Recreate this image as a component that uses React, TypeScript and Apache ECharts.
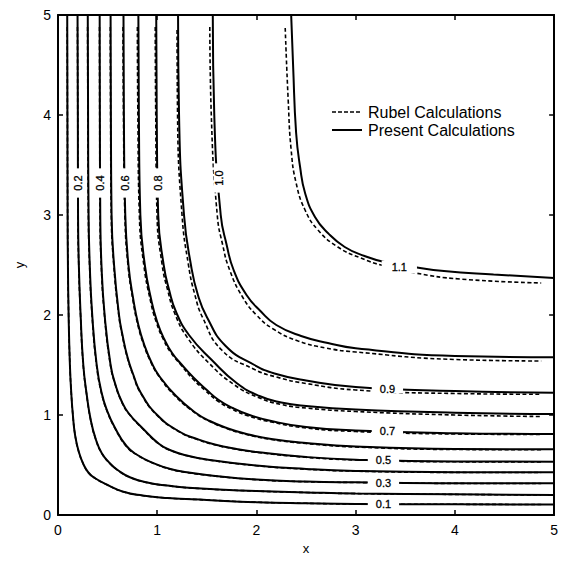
import React, { useEffect, useRef } from 'react';
import * as echarts from 'echarts';

const FONT = '"Liberation Sans", Arial, Helvetica, sans-serif';

const levels = ['0.1', '0.2', '0.3', '0.4', '0.5', '0.6', '0.7', '0.8', '0.9', '1.0', '1.1'];

// Present calculations (solid)
const present01 = [[0.093,5],[0.095,4],[0.097,3],[0.1,2.5],[0.107,2],[0.12,1.5],[0.135,1.2],[0.15,1.0],[0.172,0.8],[0.21,0.63],[0.26,0.5],[0.31,0.42],[0.37,0.37],[0.5,0.3],[0.65,0.235],[0.85,0.195],[1.1,0.17],[1.5,0.15],[2,0.128],[2.5,0.117],[3,0.11],[4,0.107],[5,0.105]];
const present02 = [[0.197,5],[0.2,4],[0.202,3],[0.21,2.5],[0.228,2],[0.255,1.5],[0.29,1.2],[0.33,0.95],[0.38,0.76],[0.44,0.62],[0.52,0.52],[0.6,0.45],[0.73,0.375],[0.9,0.325],[1.1,0.295],[1.4,0.267],[2,0.24],[2.5,0.226],[3,0.215],[4,0.207],[5,0.2]];
const present03 = [[0.3,5],[0.303,4],[0.308,3],[0.32,2.5],[0.345,2],[0.39,1.5],[0.44,1.22],[0.5,1.03],[0.57,0.88],[0.69,0.69],[0.8,0.6],[0.967,0.517],[1.133,0.46],[1.3,0.427],[1.5,0.4],[2,0.355],[2.5,0.335],[3,0.327],[4,0.318],[5,0.317]];
const present04 = [[0.42,5],[0.422,4],[0.426,3],[0.438,2.5],[0.47,2],[0.53,1.5],[0.58,1.3],[0.64,1.14],[0.71,1.02],[0.86,0.86],[1.02,0.71],[1.14,0.645],[1.3,0.595],[1.5,0.555],[2,0.495],[2.5,0.46],[3,0.44],[4,0.428],[5,0.427]];
const present05 = [[0.53,5],[0.533,4],[0.54,3],[0.565,2.5],[0.615,2],[0.65,1.8],[0.7,1.58],[0.76,1.4],[0.83,1.23],[1.0,1.0],[1.23,0.83],[1.4,0.76],[1.58,0.705],[1.8,0.66],[2,0.63],[2.5,0.58],[3,0.553],[4,0.535],[5,0.533]];
const present06 = [[0.66,5],[0.664,4],[0.678,3],[0.71,2.5],[0.76,2.15],[0.81,1.9],[0.87,1.7],[0.94,1.53],[1.02,1.39],[1.19,1.19],[1.39,1.02],[1.53,0.94],[1.7,0.87],[1.9,0.81],[2.15,0.76],[2.5,0.72],[3,0.685],[4,0.66],[5,0.657]];
const present07 = [[0.81,5],[0.815,4],[0.83,3],[0.875,2.5],[0.94,2.15],[1.0,1.93],[1.07,1.76],[1.15,1.62],[1.25,1.5],[1.37,1.37],[1.5,1.25],[1.62,1.15],[1.76,1.07],[1.93,1.0],[2.15,0.94],[2.5,0.88],[3,0.845],[4,0.818],[5,0.81]];
const present08 = [[0.99,5],[0.995,4],[1.01,3],[1.065,2.5],[1.12,2.25],[1.19,2.03],[1.32,1.8],[1.55,1.55],[1.8,1.32],[2.03,1.19],[2.25,1.125],[2.5,1.09],[3,1.055],[4,1.023],[5,1.01]];
const present09 = [[1.21,5],[1.22,4],[1.27,3],[1.34,2.5],[1.41,2.2],[1.5,1.98],[1.69,1.69],[1.98,1.5],[2.2,1.41],[2.5,1.345],[3,1.28],[4,1.24],[5,1.223]];
const present10 = [[1.56,5],[1.575,4],[1.64,3],[1.7,2.7],[1.77,2.45],[1.9,2.2],[2.04,2.04],[2.2,1.9],[2.45,1.79],[2.72,1.72],[3,1.667],[4,1.59],[5,1.577]];
const present11 = [[2.35,5],[2.37,4.48],[2.4,3.82],[2.44,3.48],[2.49,3.22],[2.59,2.98],[2.72,2.82],[2.89,2.68],[3.09,2.59],[3.29,2.53],[3.59,2.48],[3.89,2.44],[4.39,2.405],[5,2.37]];

// Rubel calculations (dashed)
const rubel01 = [[0.093,4.88],[0.095,4],[0.097,3],[0.1,2.5],[0.107,2],[0.12,1.5],[0.135,1.2],[0.15,1.0],[0.172,0.8],[0.21,0.63],[0.26,0.5],[0.31,0.42],[0.37,0.37],[0.5,0.3],[0.65,0.235],[0.85,0.195],[1.1,0.17],[1.5,0.15],[2,0.128],[2.5,0.117],[3,0.11],[4,0.107],[4.87,0.105]];
const rubel02 = [[0.196,4.88],[0.199,4],[0.201,3],[0.209,2.5],[0.227,2],[0.254,1.5],[0.289,1.2],[0.329,0.95],[0.379,0.76],[0.439,0.62],[0.519,0.519],[0.6,0.449],[0.73,0.374],[0.9,0.324],[1.1,0.294],[1.4,0.266],[2,0.239],[2.5,0.225],[3,0.214],[4,0.206],[4.87,0.2]];
const rubel03 = [[0.298,4.88],[0.301,4],[0.306,3],[0.318,2.5],[0.343,2],[0.388,1.5],[0.438,1.22],[0.498,1.03],[0.568,0.878],[0.688,0.688],[0.8,0.598],[0.967,0.515],[1.133,0.458],[1.3,0.425],[1.5,0.398],[2,0.353],[2.5,0.333],[3,0.325],[4,0.316],[4.87,0.315]];
const rubel04 = [[0.418,4.88],[0.42,4],[0.424,3],[0.436,2.5],[0.468,2],[0.528,1.5],[0.578,1.3],[0.638,1.14],[0.708,1.02],[0.858,0.858],[1.02,0.708],[1.14,0.643],[1.3,0.593],[1.5,0.553],[2,0.493],[2.5,0.458],[3,0.438],[4,0.426],[4.87,0.425]];
const rubel05 = [[0.527,4.88],[0.53,4],[0.537,3],[0.562,2.5],[0.612,2],[0.647,1.8],[0.697,1.58],[0.757,1.4],[0.827,1.23],[0.997,0.997],[1.23,0.827],[1.4,0.757],[1.58,0.702],[1.8,0.657],[2,0.627],[2.5,0.577],[3,0.55],[4,0.532],[4.87,0.53]];
const rubel06 = [[0.655,4.88],[0.66,4],[0.674,3],[0.705,2.5],[0.755,2.15],[0.805,1.9],[0.865,1.7],[0.935,1.53],[1.015,1.39],[1.185,1.185],[1.39,1.015],[1.53,0.935],[1.7,0.865],[1.9,0.805],[2.15,0.755],[2.5,0.715],[3,0.68],[4,0.655],[4.87,0.652]];
const rubel07 = [[0.8,4.88],[0.805,4],[0.82,3],[0.865,2.5],[0.93,2.15],[0.99,1.93],[1.06,1.76],[1.14,1.62],[1.24,1.5],[1.36,1.36],[1.49,1.24],[1.61,1.14],[1.75,1.06],[1.92,0.99],[2.15,0.93],[2.5,0.87],[3,0.835],[4,0.81],[4.87,0.805]];
const rubel08 = [[0.98,4.88],[0.985,4],[0.998,3],[1.05,2.5],[1.105,2.25],[1.175,2.02],[1.3,1.78],[1.52,1.52],[1.78,1.3],[2.02,1.175],[2.25,1.105],[2.5,1.07],[3,1.035],[4,1.0],[4.87,0.985]];
const rubel09 = [[1.2,4.85],[1.205,4],[1.25,3],[1.315,2.5],[1.38,2.2],[1.46,1.97],[1.65,1.65],[1.97,1.46],[2.2,1.38],[2.5,1.315],[3,1.25],[4,1.215],[4.87,1.207]];
const rubel10 = [[1.53,4.88],[1.545,4],[1.605,3],[1.66,2.7],[1.73,2.45],[1.86,2.18],[2.0,2.0],[2.17,1.86],[2.42,1.74],[2.7,1.67],[3,1.63],[4,1.555],[4.87,1.54]];
const rubel11 = [[2.29,4.87],[2.32,4.15],[2.35,3.65],[2.4,3.32],[2.49,3.05],[2.62,2.85],[2.82,2.68],[3.05,2.57],[3.29,2.49],[3.6,2.42],[4.05,2.36],[4.87,2.32]];

const presentCurves = [present01, present02, present03, present04, present05, present06, present07, present08, present09, present10, present11];
const rubelCurves = [rubel01, rubel02, rubel03, rubel04, rubel05, rubel06, rubel07, rubel08, rubel09, rubel10, rubel11];

// contour labels
const hLabelText = ['0.1', '0.3', '0.5', '0.7', '0.9', '1.1'];
const hLabelPos = [[3.28, 0.11], [3.28, 0.325], [3.28, 0.552], [3.32, 0.84], [3.32, 1.265], [3.44, 2.48]];
const vLabelText = ['0.2', '0.4', '0.6', '0.8', '1.0'];
const vLabelPos = [[0.203, 3.32], [0.426, 3.32], [0.679, 3.32], [1.01, 3.32], [1.62, 3.37]];

const legendNames = ['Rubel Calculations', 'Present Calculations'];

export default function App() {
  const ref = useRef<HTMLDivElement>(null);
  useEffect(() => {
    if (!ref.current) return;
    const chart = echarts.init(ref.current, undefined, { renderer: 'svg' });
    const axisCommon = {
      type: 'value' as const,
      min: 0,
      max: 5,
      interval: 1,
      splitLine: { show: false },
      axisLine: { show: true, onZero: false, lineStyle: { color: '#000', width: 2 } },
      axisTick: { show: true, inside: true, length: 5, lineStyle: { color: '#000', width: 1.5 } },
    };
    const series: any[] = [];
    rubelCurves.forEach((d, i) => {
      series.push({
        type: 'line', name: 'Rubel ' + levels[i], data: d, showSymbol: false, smooth: 0.5, silent: true, z: 2,
        lineStyle: { color: '#000', width: 1.6, type: [4, 2.5] },
      });
    });
    presentCurves.forEach((d, i) => {
      series.push({
        type: 'line', name: 'Present ' + levels[i], data: d, showSymbol: false, smooth: 0.5, silent: true, z: 3,
        lineStyle: { color: '#000', width: 2 },
      });
    });

    const legendGraphics = [
      { type: 'line', shape: { x1: 332, y1: 112, x2: 362, y2: 112 }, style: { stroke: '#000', lineWidth: 1.5, lineDash: [4, 2] }, z: 20 },
      { type: 'text', x: 368, y: 112, style: { text: legendNames[0], fill: '#000', font: '16px ' + FONT, verticalAlign: 'middle' }, z: 20 },
      { type: 'line', shape: { x1: 332, y1: 130, x2: 362, y2: 130 }, style: { stroke: '#000', lineWidth: 2 }, z: 20 },
      { type: 'text', x: 368, y: 130, style: { text: legendNames[1], fill: '#000', font: '16px ' + FONT, verticalAlign: 'middle' }, z: 20 },
    ];

    chart.setOption({
      animation: false,
      backgroundColor: '#fff',
      grid: { left: 58, top: 15, width: 500, height: 500 },
      xAxis: [
        {
          ...axisCommon, position: 'bottom', name: 'x', nameLocation: 'middle', nameGap: 26,
          nameTextStyle: { fontSize: 13, color: '#000', fontFamily: FONT },
          axisLabel: { fontSize: 14, color: '#000', margin: 8, fontFamily: FONT },
        },
        { ...axisCommon, position: 'top', axisLabel: { show: false } },
      ],
      yAxis: [
        {
          ...axisCommon, position: 'left', name: 'y', nameLocation: 'middle', nameGap: 32, nameRotate: 90,
          nameTextStyle: { fontSize: 13, color: '#000', fontFamily: FONT },
          axisLabel: { fontSize: 14, color: '#000', margin: 7, fontFamily: FONT },
        },
        { ...axisCommon, position: 'right', axisLabel: { show: false } },
      ],
      series,
      graphic: legendGraphics,
    });

    // contour labels, placed through the chart's own coordinate system
    const labelGraphics: any[] = [];
    hLabelPos.forEach((p, i) => {
      const [px, py] = chart.convertToPixel({ xAxisIndex: 0, yAxisIndex: 0 }, p) as number[];
      const isLast = i === hLabelPos.length - 1;
      labelGraphics.push({
        type: 'text', x: px, y: py, z: 30,
        style: {
          text: hLabelText[i], fill: '#000', stroke: '#000', lineWidth: 0.3, font: '11px ' + FONT,
          align: 'center', verticalAlign: 'middle',
          backgroundColor: '#fff', padding: isLast ? [1, 10] : [0, 8], lineHeight: isLast ? 11 : 9,
        },
      });
    });
    vLabelPos.forEach((p, i) => {
      const [px, py] = chart.convertToPixel({ xAxisIndex: 0, yAxisIndex: 0 }, p) as number[];
      const isLast = i === vLabelPos.length - 1;
      labelGraphics.push({
        type: 'text', x: px, y: py, rotation: Math.PI / 2, z: 30,
        style: {
          text: vLabelText[i], fill: '#000', stroke: '#000', lineWidth: 0.3, font: '11px ' + FONT,
          align: 'center', verticalAlign: 'middle',
          backgroundColor: '#fff', padding: [0, 7], lineHeight: isLast ? 10 : 9,
        },
      });
    });
    chart.setOption({ graphic: [...legendGraphics, ...labelGraphics] });

    return () => chart.dispose();
  }, []);
  return <div ref={ref} style={{ position: 'absolute', left: 0, top: 0, width: 561, height: 565, background: '#fff' }} />;
}
